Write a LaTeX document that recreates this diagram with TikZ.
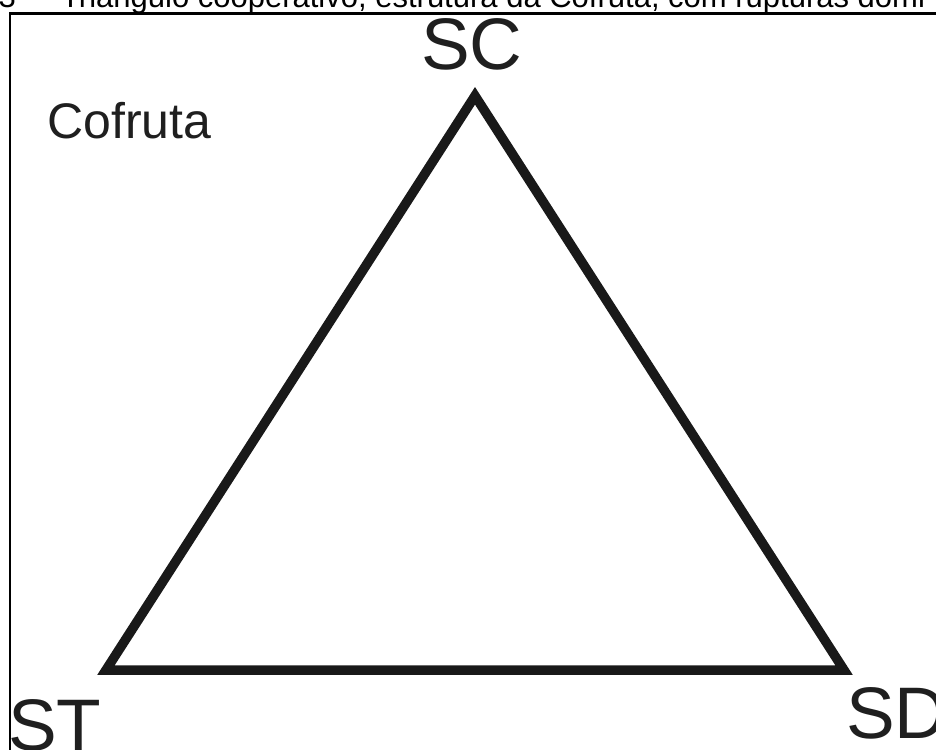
\documentclass[tikz,border=0pt]{standalone}
\usepackage{fontspec}
\setmainfont{Liberation Sans}
\tikzset{
  lbl/.style={inner sep=0pt, anchor=base west, text=black!88, font=\fontsize{73}{80}\selectfont},
  small/.style={inner sep=0pt, anchor=base west, text=black!88, font=\fontsize{50}{56}\selectfont},
  captxt/.style={inner sep=0pt, text=black, font=\fontsize{31}{36}\selectfont},
  frameline/.style={line width=2.7pt, draw=black},
  triline/.style={line width=9.5pt, draw=black!90, line join=miter, miter limit=10}
}
\begin{document}
\begin{tikzpicture}[x=1pt,y=-1pt]
\useasboundingbox (0,0) rectangle (936,749);
\clip (0,0) rectangle (936,749);
\fill[white] (0,0) rectangle (936,749);
% caption (cut off at the top)
\node[captxt, anchor=base east] (num) at (16,8) {3};
\node[captxt, anchor=base west] (caption) at (61,8) {Triângulo cooperativo, estrutura da Cofruta, com rupturas domi};
% frame
\draw[frameline] (10,13.7) rectangle (980,800);
% triangle
\coordinate (A) at (475,95.8);
\coordinate (B) at (106,670);
\coordinate (C) at (844,670);
\draw[triline] (A) -- (B) -- (C) -- cycle;
% labels
\node[lbl] (sc) at (421,70) {SC};
\node[lbl] (st) at (8,750) {ST};
\node[lbl] (sd) at (846,738) {SD};
\node[small] (cofruta) at (47,138) {Cofruta};
\end{tikzpicture}
\end{document}
